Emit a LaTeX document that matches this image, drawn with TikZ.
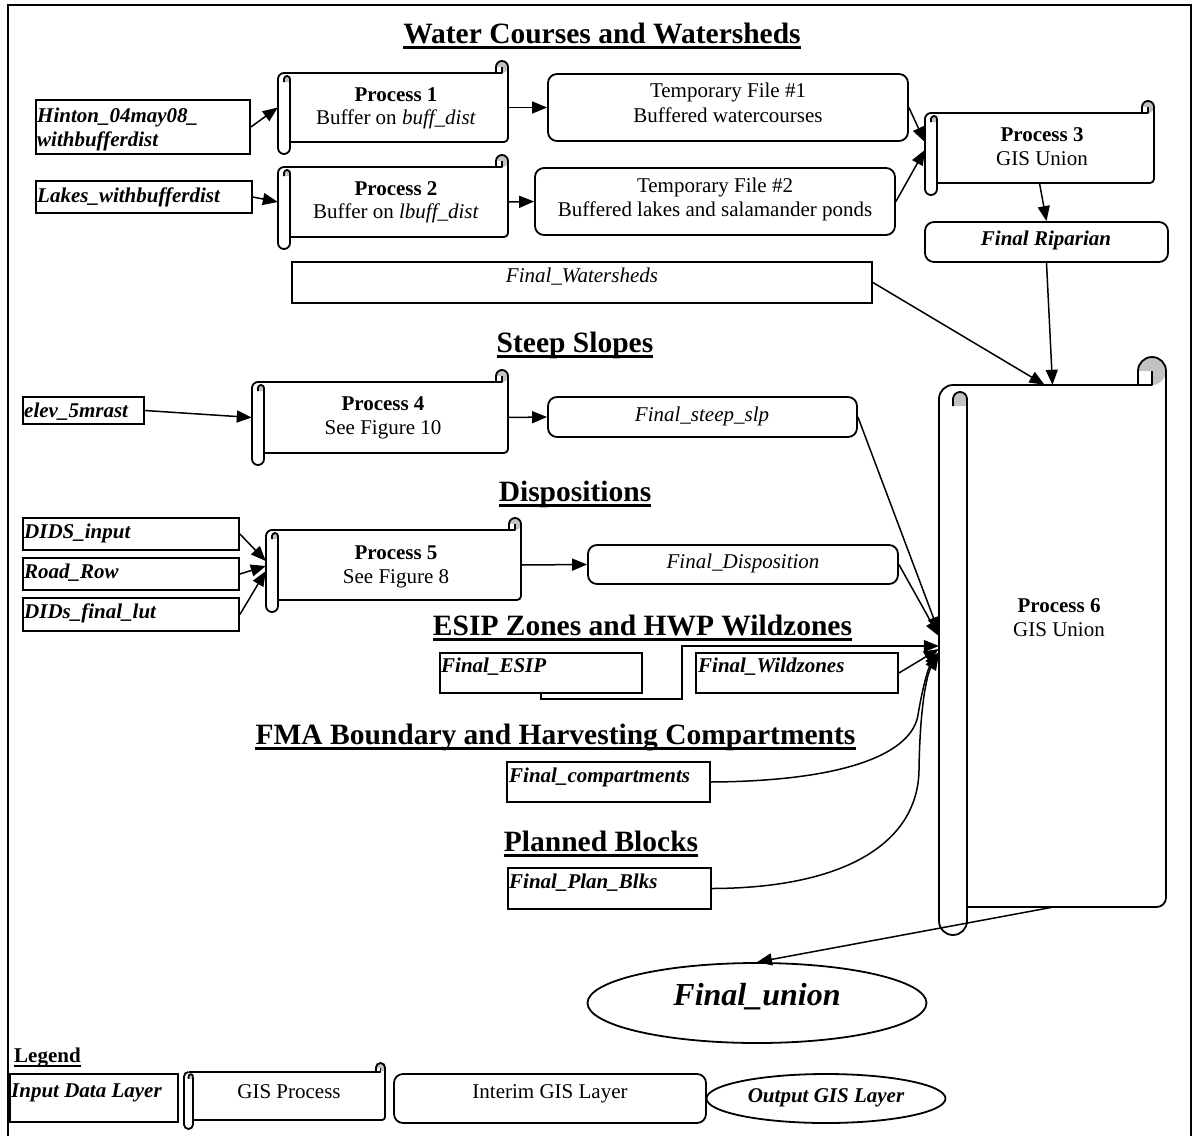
\documentclass[tikz,border=0pt]{standalone}
\usepackage{fontspec}
\setmainfont{Liberation Serif}
\usetikzlibrary{arrows.meta,shapes.geometric,fit,calc}

\newcommand\fbody{\fontsize{21}{24}\selectfont}
\newcommand\ftitle{\fontsize{29.5}{34}\selectfont\bfseries}

\tikzset{
  outl/.style={line width=1.8pt, line join=round},
  curl/.style={fill=black!24},
  databox/.style={draw, line width=1.8pt, inner sep=0pt},
  tempbox/.style={draw, line width=1.8pt, rounded corners=9pt, inner sep=0pt},
  outbox/.style={ellipse, draw, line width=1.8pt, inner sep=0pt},
  conn/.style={line width=1.5pt},
  arr/.style={conn, -{Triangle[length=15pt,width=12pt]}},
  lbl/.style={inner sep=0pt, font=\fbody},
  datalbl/.style={lbl, font=\fbody\bfseries\itshape, anchor=base west},
  proclbl/.style={lbl, anchor=base},
  ttl/.style={inner sep=0pt, font=\ftitle, anchor=base},
  uline/.style={line width=2.4pt},
}

% Scroll-shaped process box: name, left x, body top y, right x, body bottom y, roll width
\newcommand\gisscroll[6]{%
  \pgfmathsetmacro\scH{#6/2}%
  \pgfmathsetmacro\scQ{#6/4}%
  \pgfmathsetmacro\scR{#6/3}%
  \node[fit={(#2,#3) (#4,#5)}, inner sep=0pt, draw=none] (#1) {};
  \fill[white] (#2+#6,#3) rectangle (#4,#5);
  % curl at the top right
  \fill[curl] (#4-\scH,#3-\scH) circle[radius=\scH pt];
  \fill[white] (#4-#6,#3-\scH) rectangle (#4-\scH,#3);
  \draw[outl] (#4-#6,#3) -- (#4-#6,#3-\scH) arc[start angle=180,end angle=0,radius=\scH pt]
     -- (#4,#5-\scR) arc[start angle=0,end angle=-90,radius=\scR pt] -- (#2+#6,#5);
  \draw[outl] (#2+\scH,#3) -- (#4-\scH,#3) -- (#4-\scH,#3-\scH);
  % roll on the left
  \fill[curl] (#2+#6,#3+\scH) arc[start angle=0,end angle=180,radius=\scQ pt]
     -- (#2+\scH,#3+\scH+\scQ) -- (#2+#6,#3+\scH+\scQ) -- cycle;
  \draw[outl] (#2+\scH,#3) arc[start angle=90,end angle=180,radius=\scH pt]
     -- (#2,#5+\scH) arc[start angle=180,end angle=360,radius=\scH pt] -- (#2+#6,#3+\scH);
  \draw[outl] (#2+\scH,#3+\scH+\scQ) -- (#2+\scH,#3+\scH) arc[start angle=180,end angle=0,radius=\scQ pt];
}

\begin{document}
\begin{tikzpicture}[x=1pt,y=-1pt]
\useasboundingbox (0,0) rectangle (1196,1135);
\fill[white] (0,0) rectangle (1196,1135);

% outer frame
\draw[line width=2.4pt] (8,1140) -- (8,5) -- (1191,5) -- (1191,1140);

% ---------- Water courses and watersheds ----------
\node[ttl] (t1) at (602,43) {Water Courses and Watersheds};
\draw[uline] ($(t1.base west)+(0,4.5)$) -- ($(t1.base east)+(0,4.5)$);

\node[databox, fit={(36,100) (250,154)}] (hinton) {};
\node[datalbl] (hintonA) at (37,122) {Hinton\_04may08\_};
\node[datalbl] (hintonB) at (37,146) {withbufferdist};

\node[databox, fit={(36,181) (252,213)}] (lakes) {};
\node[datalbl] (lakesT) at (37,202) {Lakes\_withbufferdist};

\gisscroll{p1}{278}{73}{508}{142}{12}
\node[proclbl, font=\fbody\bfseries] (p1a) at (396,101) {Process 1};
\node[proclbl] (p1b) at (396,124) {Buffer on \textit{buff\_dist}};

\gisscroll{p2}{278}{167}{508}{237}{12}
\node[proclbl, font=\fbody\bfseries] (p2a) at (396,195) {Process 2};
\node[proclbl] (p2b) at (396,218) {Buffer on \textit{lbuff\_dist}};

\node[tempbox, fit={(548,74) (908,141)}] (temp1) {};
\node[proclbl] (temp1a) at (728,97) {Temporary File \#1};
\node[proclbl] (temp1b) at (728,122) {Buffered watercourses};

\node[tempbox, fit={(535,168) (895,235)}] (temp2) {};
\node[proclbl] (temp2a) at (715,192) {Temporary File \#2};
\node[proclbl] (temp2b) at (715,216) {Buffered lakes and salamander ponds};

\gisscroll{p3}{925}{113}{1154}{183}{12}
\node[proclbl, font=\fbody\bfseries] (p3a) at (1042,141) {Process 3};
\node[proclbl] (p3b) at (1042,165) {GIS Union};

\node[tempbox, fit={(925,222) (1168,262)}] (rip) {};
\node[proclbl, font=\fbody\bfseries\itshape] (ripT) at (1046,245) {Final Riparian};

\node[databox, fit={(292,262) (872,303)}] (shed) {};
\node[proclbl, font=\fbody\itshape] (shedT) at (582,282) {Final\_Watersheds};

% ---------- Steep slopes ----------
\node[ttl] (t2) at (575,352) {Steep Slopes};
\draw[uline] ($(t2.base west)+(0,4.5)$) -- ($(t2.base east)+(0,4.5)$);

\node[databox, fit={(23,397) (144,424)}] (elev) {};
\node[datalbl] (elevT) at (24,417) {elev\_5mrast};

\gisscroll{p4}{252}{382}{508}{453}{12}
\node[proclbl, font=\fbody\bfseries] (p4a) at (383,410) {Process 4};
\node[proclbl] (p4b) at (383,434) {See Figure 10};

\node[tempbox, fit={(548,397) (857,437)}] (steep) {};
\node[proclbl, font=\fbody\itshape] (steepT) at (702,421) {Final\_steep\_slp};

% ---------- Dispositions ----------
\node[ttl] (t3) at (575,501) {Dispositions};
\draw[uline] ($(t3.base west)+(0,4.5)$) -- ($(t3.base east)+(0,4.5)$);

\node[databox, fit={(23,518) (239,550)}] (didsin) {};
\node[datalbl] (didsinT) at (24,538) {DIDS\_input};
\node[databox, fit={(23,558) (239,590)}] (road) {};
\node[datalbl] (roadT) at (24,578) {Road\_Row};
\node[databox, fit={(23,598) (239,631)}] (lut) {};
\node[datalbl] (lutT) at (24,618) {DIDs\_final\_lut};

\gisscroll{p5}{266}{530}{521}{600}{12}
\node[proclbl, font=\fbody\bfseries] (p5a) at (396,559) {Process 5};
\node[proclbl] (p5b) at (396,583) {See Figure 8};

\node[tempbox, fit={(588,545) (898,584)}] (disp) {};
\node[proclbl, font=\fbody\itshape] (dispT) at (743,568) {Final\_Disposition};

% ---------- ESIP zones and HWP wildzones ----------
\node[ttl] (t4) at (642.5,635) {ESIP Zones and HWP Wildzones};
\draw[uline] ($(t4.base west)+(0,4.5)$) -- ($(t4.base east)+(0,4.5)$);

\node[databox, fit={(440,653) (642,693)}] (esip) {};
\node[datalbl] (esipT) at (441,672) {Final\_ESIP};
\node[databox, fit={(696,653) (898,693)}] (wild) {};
\node[datalbl] (wildT) at (698,672) {Final\_Wildzones};

% ---------- FMA boundary and harvesting compartments ----------
\node[ttl] (t5) at (555.5,744) {FMA Boundary and Harvesting Compartments};
\draw[uline] ($(t5.base west)+(0,4.5)$) -- ($(t5.base east)+(0,4.5)$);

\node[databox, fit={(507,762) (710,802)}] (comp) {};
\node[datalbl] (compT) at (509,782) {Final\_compartments};

% ---------- Planned blocks ----------
\node[ttl] (t6) at (601,851) {Planned Blocks};
\draw[uline] ($(t6.base west)+(0,4.5)$) -- ($(t6.base east)+(0,4.5)$);

\node[databox, fit={(508,868) (711,909)}] (plan) {};
\node[datalbl] (planT) at (509,888) {Final\_Plan\_Blks};

% ---------- Union of all layers ----------
\gisscroll{p6}{939}{385}{1166}{907}{28}
\node[proclbl, font=\fbody\bfseries] (p6a) at (1059,612) {Process 6};
\node[proclbl] (p6b) at (1059,636) {GIS Union};

\node[outbox, minimum width=339pt, minimum height=80pt] (fu) at (757,1003) {};
\node[proclbl, font=\fontsize{32}{36}\selectfont\bfseries\itshape] (fuT) at (757,1005) {Final\_union};

% ---------- Connectors ----------
\draw[arr] (hinton.east) -- (p1.west);
\draw[arr] (lakes.east) -- (p2.west);
\draw[arr] (p1.east) -- (temp1.west);
\draw[arr] (p2.east) -- (temp2.west);
\draw[arr] (temp1.east) -- ($(p3.west)+(0,-6)$);
\draw[arr] (temp2.east) -- ($(p3.west)+(0,2)$);
\draw[arr] (p3.south) -- (rip.north);
\draw[arr] (rip.south) -- (p6.north);
\draw[arr] (shed.east) -- ($(p6.north)+(-8,0)$);

\draw[arr] (elev.east) -- (p4.west);
\draw[arr] (p4.east) -- (steep.west);
\draw[arr] (steep.east) -- ($(p6.west)+(0,-14)$);

\draw[arr] (didsin.east) -- ($(p5.west)+(0,-4)$);
\draw[arr] (road.east) -- ($(p5.west)+(0,1)$);
\draw[arr] (lut.east) -- ($(p5.west)+(0,6)$);
\draw[arr] (p5.east) -- (disp.west);
\draw[arr] (disp.east) -- ($(p6.west)+(0,-10)$);

\coordinate (esipbend) at (682,699);
\draw[arr] (esip.south) |- (esipbend) |- (p6.west);
\draw[arr] (wild.east) -- ($(p6.west)+(0,3)$);

\draw[arr] (comp.east) .. controls (850,781) and (912,752) .. (918,715)
   .. controls (922,690) and (928,668) .. ($(p6.west)+(0,6)$);
\draw[arr] (plan.east) .. controls (850,888) and (918,840) .. (919,770)
   .. controls (920,700) and (928,672) .. ($(p6.west)+(0,9)$);

\draw[arr] (p6.south) -- (fu.north);

% ---------- Legend ----------
\node[lbl, font=\fbody\bfseries, anchor=base west] (leg) at (14,1062) {Legend};
\draw[line width=1.8pt] ($(leg.base west)+(0,4)$) -- ($(leg.base east)+(0,4)$);

\node[databox, fit={(10,1074) (178,1122)}] (legin) {};
\node[datalbl] (leginT) at (11,1097) {Input Data Layer};

\gisscroll{legproc}{184}{1072}{385}{1120}{9}
\node[proclbl] (legprocT) at (289,1098) {GIS Process};

\node[tempbox, fit={(394,1074) (706,1123)}] (legtmp) {};
\node[proclbl] (legtmpT) at (550,1098) {Interim GIS Layer};

\node[outbox, minimum width=239pt, minimum height=49pt] (legout) at (826,1098.5) {};
\node[proclbl, font=\fbody\bfseries\itshape] (legoutT) at (826,1102) {Output GIS Layer};

\end{tikzpicture}
\end{document}
